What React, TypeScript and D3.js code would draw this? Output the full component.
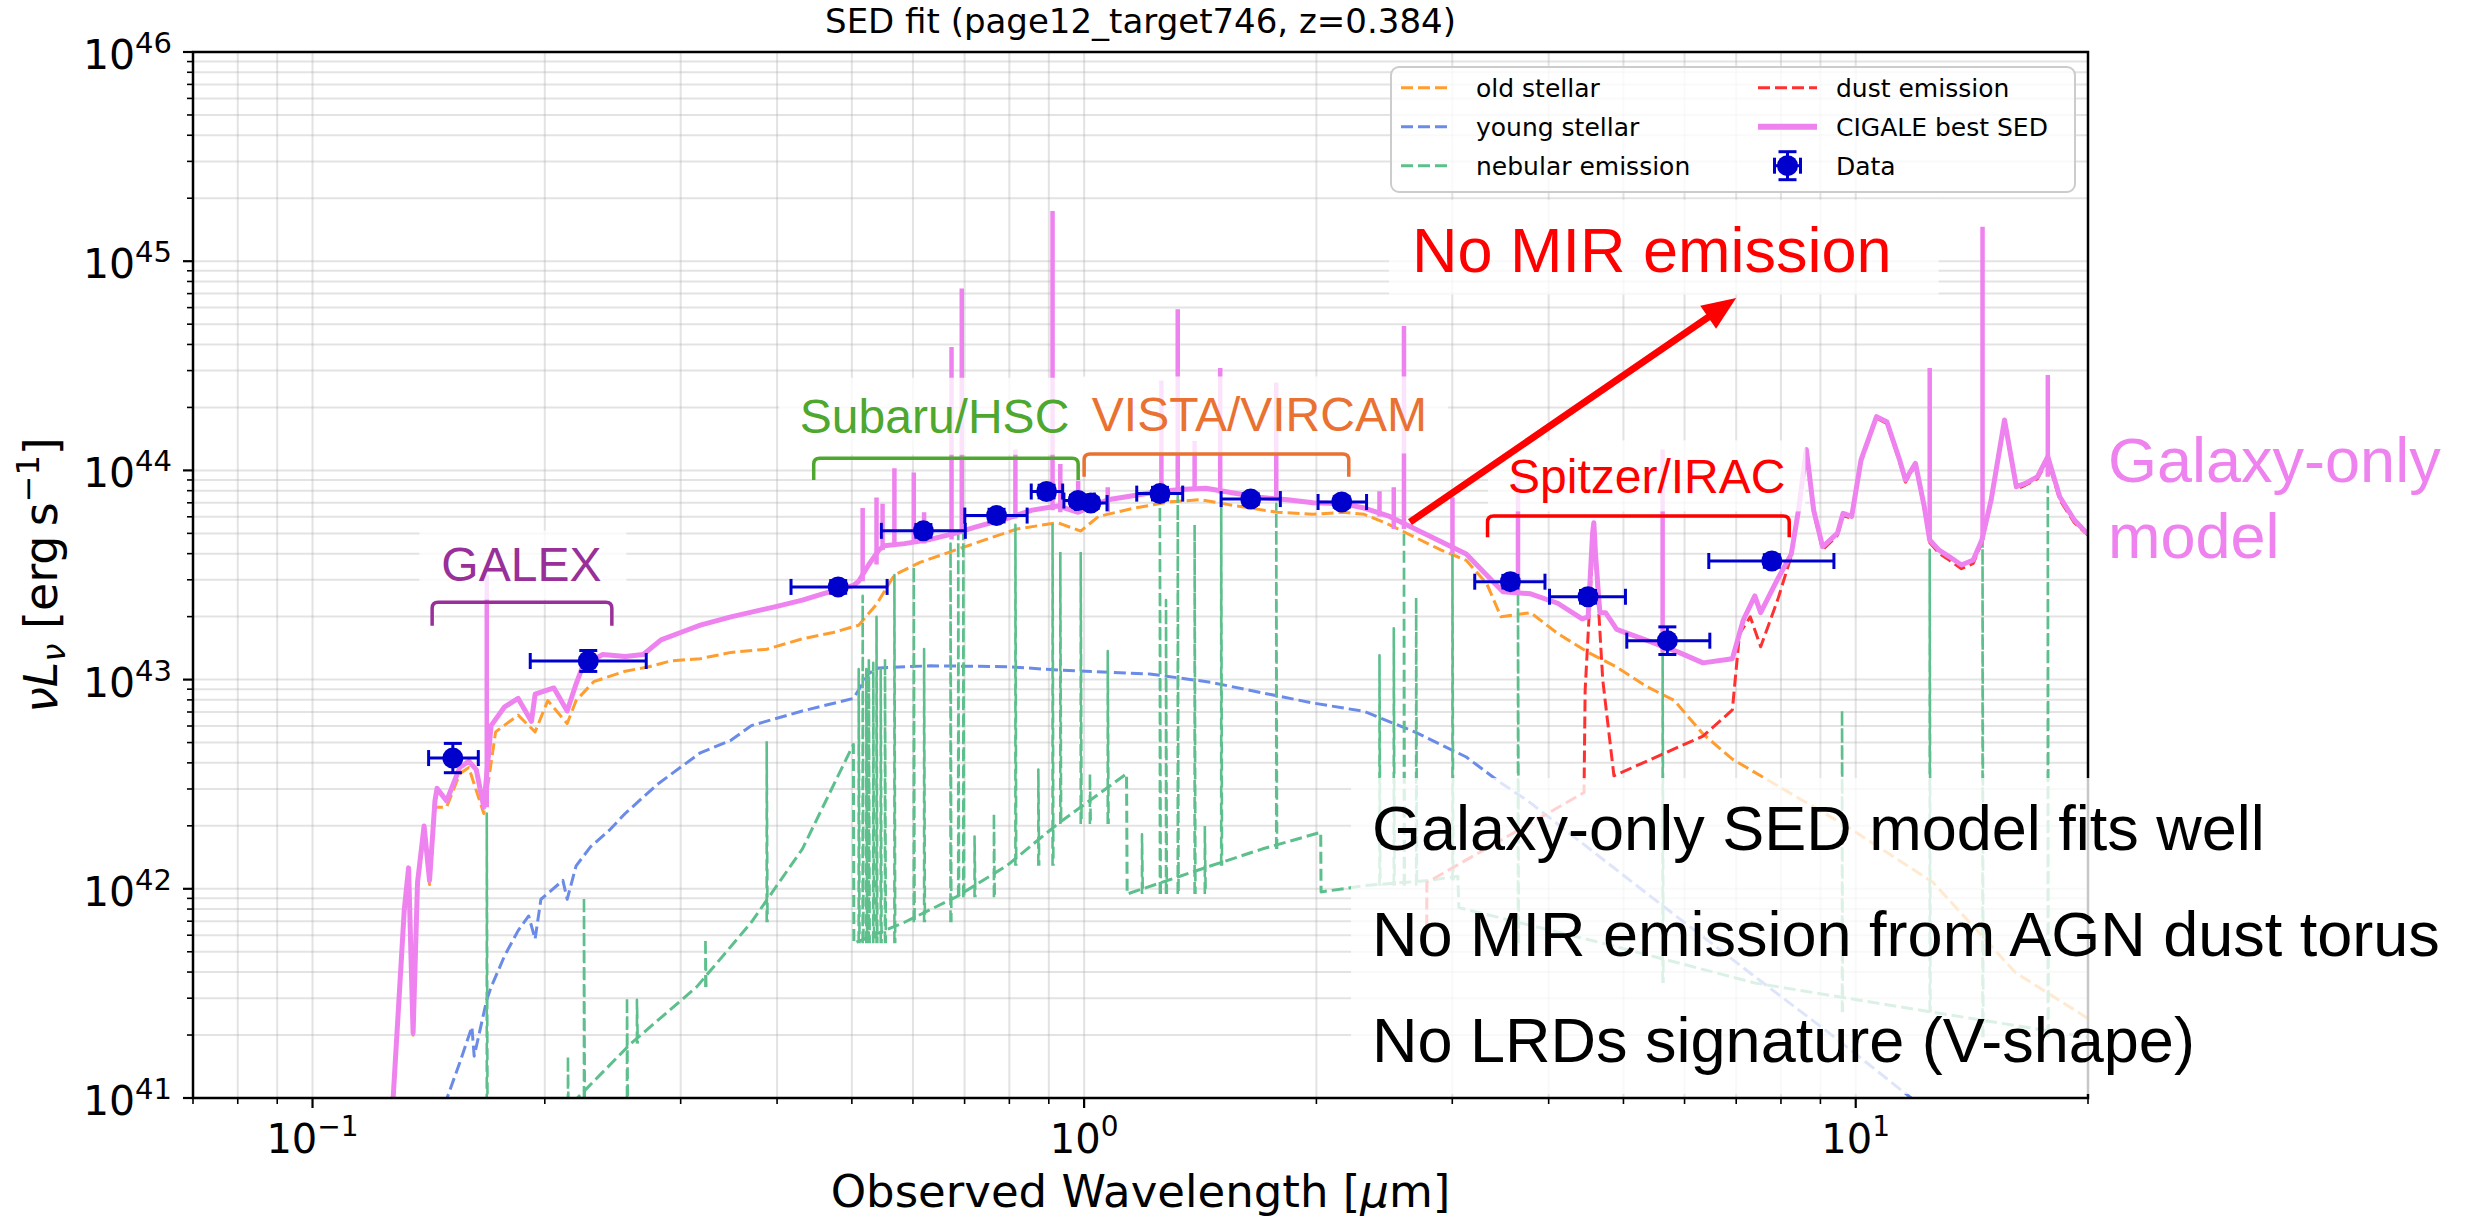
import * as d3 from "d3";
import { useLayoutEffect, useRef, useState } from "react";

type Pt = [number, number];

// all curves: [observed wavelength in µm, log10 νLν in erg/s]
const sedTotal: Pt[] = [
  [0.1265, 40.7], [0.1272, 41.0], [0.1315, 41.9], [0.1332, 42.1], [0.135, 41.31], [0.1368, 42.03],
  [0.1395, 42.3], [0.1418, 42.04], [0.1441, 42.42], [0.145, 42.48], [0.1492, 42.42], [0.1552, 42.58],
  [0.1594, 42.61], [0.163, 42.57], [0.1667, 42.39], [0.1704, 42.78], [0.1774, 42.87], [0.1847, 42.91],
  [0.1922, 42.8], [0.1943, 42.93], [0.2055, 42.96], [0.2138, 42.85], [0.2196, 42.98], [0.2243, 43.07],
  [0.2378, 43.12], [0.2542, 43.11], [0.2683, 43.12], [0.2829, 43.19], [0.3023, 43.23], [0.3181, 43.26],
  [0.3485, 43.3], [0.3997, 43.35], [0.4313, 43.38], [0.4584, 43.41], [0.5023, 43.45], [0.5103, 43.47],
  [0.526, 43.55], [0.5423, 43.62], [0.5506, 43.64], [0.5851, 43.65], [0.6317, 43.67], [0.6816, 43.7],
  [0.7243, 43.73], [0.7937, 43.77], [0.8564, 43.81], [0.9241, 43.83], [0.9824, 43.8], [1.073, 43.86],
  [1.1618, 43.88], [1.2537, 43.9], [1.3528, 43.91], [1.438, 43.915], [1.5756, 43.89], [1.7003, 43.87],
  [1.8345, 43.86], [1.9798, 43.845], [2.1704, 43.84], [2.3067, 43.82], [2.4889, 43.78], [2.6853, 43.72],
  [2.8986, 43.66], [3.1278, 43.6], [3.304, 43.51], [3.49, 43.42], [3.79, 43.41], [4.11, 43.365],
  [4.42, 43.29], [4.5, 43.3], [4.56, 43.7], [4.577, 43.75], [4.6, 43.6], [4.66, 43.32], [4.74, 43.32],
  [4.9, 43.24], [5.34, 43.19], [5.9, 43.13], [6.34, 43.08], [6.92, 43.1], [7.15, 43.285], [7.4, 43.4],
  [7.53, 43.32], [7.92, 43.48], [8.25, 43.6], [8.43, 43.81], [8.63, 44.1], [8.82, 43.81], [9.06, 43.635],
  [9.47, 43.7], [9.63, 43.795], [9.88, 43.78], [10.16, 44.05], [10.64, 44.257], [10.97, 44.233],
  [11.4, 44.05], [11.6, 43.954], [11.95, 44.034], [12.27, 43.827], [12.47, 43.667], [12.81, 43.62],
  [13.23, 43.587], [13.71, 43.548], [14.2, 43.572], [14.57, 43.667], [14.98, 43.859], [15.59, 44.241],
  [16.15, 43.922], [16.6, 43.938], [17.2, 43.97], [17.74, 44.066], [18.38, 43.874], [19.2, 43.763],
  [19.85, 43.707], [20.0, 43.7],
];

// emission-line peaks on the best SED
const sedLines: Pt[] = [
  [0.1682, 43.5], [0.5164, 43.82], [0.5382, 43.87], [0.548, 43.84], [0.5677, 44.01], [0.6015, 43.99],
  [0.6203, 43.8], [0.6732, 44.59], [0.6941, 44.87], [0.8146, 44.1], [0.9101, 45.24], [0.9314, 44.03],
  [0.9824, 43.95], [1.073, 43.92], [1.2593, 44.43], [1.3223, 44.77], [1.3906, 44.14], [1.5009, 44.49],
  [1.7742, 44.42], [2.4143, 43.9], [2.5195, 43.92], [2.5972, 44.69], [3.0017, 43.87], [3.65, 44.0],
  [5.62, 44.1], [12.47, 44.49], [14.6, 45.165], [17.74, 44.456],
];

const oldStellar: Pt[] = [
  [0.1265, 40.7], [0.1272, 41.0], [0.1315, 41.88], [0.1332, 42.08], [0.135, 41.3], [0.1368, 42.01],
  [0.1395, 42.27], [0.1418, 42.02], [0.1441, 42.39], [0.1492, 42.39], [0.1552, 42.55], [0.1594, 42.58],
  [0.1667, 42.36], [0.1727, 42.75], [0.1847, 42.83], [0.1943, 42.75], [0.2018, 42.9], [0.2138, 42.79],
  [0.2196, 42.9], [0.2314, 42.99], [0.2542, 43.04], [0.2719, 43.06], [0.2918, 43.09], [0.3181, 43.1],
  [0.3485, 43.13], [0.3878, 43.145], [0.4313, 43.195], [0.4727, 43.225], [0.5103, 43.26], [0.5382, 43.36],
  [0.5677, 43.5], [0.6126, 43.56], [0.6816, 43.62], [0.7466, 43.67], [0.8182, 43.72], [0.9241, 43.75],
  [0.9899, 43.71], [1.0442, 43.78], [1.1618, 43.82], [1.2925, 43.85], [1.4162, 43.86], [1.5756, 43.83],
  [1.7795, 43.8], [1.9798, 43.79], [2.1704, 43.8], [2.3067, 43.79], [2.4889, 43.74], [2.6853, 43.68],
  [2.8986, 43.62], [3.1278, 43.57], [3.3236, 43.46], [3.47, 43.3], [3.79, 43.32], [4.11, 43.22],
  [4.5, 43.13], [4.9, 43.06], [5.34, 42.97], [5.82, 42.9], [6.34, 42.74], [6.92, 42.62], [7.53, 42.54],
  [9.72, 42.3], [12.6, 42.03], [16.1, 41.6], [20.0, 41.38],
];

const youngStellar: Pt[] = [
  [0.1485, 40.8], [0.1494, 41.0], [0.1552, 41.17], [0.1609, 41.34], [0.162, 41.2], [0.1682, 41.47],
  [0.1704, 41.53], [0.1774, 41.68], [0.1847, 41.8], [0.1906, 41.87], [0.1943, 41.76], [0.1977, 41.95],
  [0.2111, 42.04], [0.2138, 41.95], [0.2196, 42.11], [0.2292, 42.2], [0.2425, 42.28], [0.2542, 42.36],
  [0.28, 42.5], [0.3181, 42.65], [0.3485, 42.71], [0.3704, 42.78], [0.4313, 42.85], [0.5023, 42.91],
  [0.526, 43.03], [0.5423, 43.056], [0.6317, 43.066], [0.7937, 43.062], [0.9241, 43.046], [1.216, 43.027],
  [1.46, 42.987], [1.7003, 42.937], [1.9798, 42.888], [2.3067, 42.848], [2.6853, 42.749], [3.1278, 42.63],
  [3.4537, 42.511], [3.76, 42.42], [5.5, 41.946], [7.4, 41.58], [9.25, 41.309], [11.8, 41.0], [12.3, 40.9],
];

const nebularCont: Pt[] = [
  [0.218, 40.8], [0.2204, 41.0], [0.2585, 41.26], [0.3145, 41.53], [0.3704, 41.84], [0.4313, 42.19],
  [0.5023, 42.69], [0.503, 41.74], [0.5851, 41.84], [0.6816, 41.96], [0.7937, 42.11], [0.9241, 42.31],
  [1.135, 42.55], [1.137, 41.975], [1.46, 42.11], [1.7003, 42.19], [2.0259, 42.27], [2.028, 41.985],
  [2.3067, 42.015], [2.8, 42.04], [3.05, 42.06], [3.06, 41.91], [4.7, 41.74], [7.4, 41.55],
  [12.6, 41.41], [20.0, 41.29],
];

const nebularLines: Pt[] = [
  [0.1682, 42.36], [0.2143, 41.2], [0.2248, 41.96], [0.2556, 41.48], [0.2633, 41.47], [0.323, 41.76],
  [0.3878, 42.7], [0.5103, 43.05], [0.5164, 43.4], [0.522, 43.05], [0.526, 43.1], [0.533, 43.08],
  [0.5382, 43.3], [0.545, 43.05], [0.552, 43.1], [0.5677, 43.5], [0.6015, 43.54], [0.6203, 43.146],
  [0.6712, 43.65], [0.6868, 43.7], [0.6973, 43.7], [0.7211, 42.25], [0.764, 42.36], [0.8146, 43.74],
  [0.8723, 42.57], [0.9101, 43.74], [0.9314, 43.61], [0.9899, 43.61], [1.0174, 42.55], [1.073, 43.136],
  [1.1885, 42.26], [1.2537, 43.87], [1.2768, 43.38], [1.3223, 43.88], [1.3906, 43.74], [1.4336, 42.3],
  [1.5054, 43.87], [1.7742, 43.84], [2.4143, 43.116], [2.5195, 43.245], [2.5972, 43.75], [2.6934, 43.393],
  [3.0017, 43.593], [3.65, 43.51], [5.62, 43.19], [9.6, 42.855], [12.47, 43.62], [14.6, 43.667],
  [17.74, 43.922],
];

const dustEmission: Pt[] = [
  [2.78, 41.82], [2.781, 42.03], [4.445, 42.46], [4.46, 42.95], [4.577, 43.73], [4.7, 43.0], [4.86, 42.54],
  [6.34, 42.73], [6.92, 42.855], [7.07, 43.22], [7.3, 43.3], [7.53, 43.157], [7.92, 43.38], [8.25, 43.59],
  [8.43, 43.8], [8.63, 44.09], [8.82, 43.8], [9.06, 43.62], [9.47, 43.69], [9.63, 43.785], [9.88, 43.77],
  [10.16, 44.04], [10.64, 44.25], [10.97, 44.225], [11.4, 44.04], [11.6, 43.944], [11.95, 44.024],
  [12.27, 43.815], [12.47, 43.655], [12.81, 43.605], [13.23, 43.57], [13.71, 43.53], [14.2, 43.555],
  [14.57, 43.655], [14.98, 43.85], [15.59, 44.23], [16.15, 43.91], [16.6, 43.93], [17.2, 43.96],
  [17.74, 44.05], [18.38, 43.86], [19.2, 43.75], [20.0, 43.69],
];

// photometry: GALEX FUV/NUV, HSC grizy, VIRCAM YJHKs, IRAC 1-4
const obsLam = [0.152, 0.2277, 0.48, 0.619, 0.77, 0.894, 0.982, 1.02, 1.254, 1.644, 2.157, 3.568, 4.498, 5.7, 7.785];
const obsLamLo = [0.1414, 0.1915, 0.417, 0.546, 0.7004, 0.854, 0.9415, 0.975, 1.17, 1.505, 2.01, 3.208, 4.01, 5.05, 6.45];
const obsLamHi = [0.164, 0.2707, 0.5555, 0.7015, 0.8436, 0.938, 1.031, 1.071, 1.342, 1.796, 2.323, 3.956, 5.03, 6.47, 9.37];
const obsLogL = [42.625, 43.089, 43.443, 43.711, 43.784, 43.899, 43.856, 43.844, 43.889, 43.863, 43.849, 43.468, 43.396, 43.186, 43.567];
const obsErr = [0.07, 0.05, 0.03, 0.03, 0.03, 0.03, 0.025, 0.025, 0.03, 0.025, 0.025, 0.03, 0.03, 0.066, 0.03];

const instruments = [
  { name: "GALEX", lo: 0.1429, hi: 0.2443, bar: 43.37, leg: 43.258, tx: 0.1865, ty: 43.473, color: "#992f99", pad: [22, 25, 7, 9] },
  { name: "Subaru/HSC", lo: 0.4462, hi: 0.9824, bar: 44.058, leg: 43.954, tx: 0.64, ty: 44.18, color: "#4ea72e", pad: [21, 21, 12, 12] },
  { name: "VISTA/VIRCAM", lo: 1.0, hi: 2.203, bar: 44.078, leg: 43.97, tx: 1.687, ty: 44.186, color: "#e97132", pad: [21, 21, 12, 12] },
  { name: "Spitzer/IRAC", lo: 3.333, hi: 8.2, bar: 43.782, leg: 43.68, tx: 5.36, ty: 43.89, color: "#ff0000", pad: [20, 20, 10, 8] },
];

const arrowFrom: Pt = [2.644, 43.753];
const arrowTo: Pt = [7.0, 44.824];

const notes = ["Galaxy-only SED model fits well", "No MIR emission from AGN dust torus", "No LRDs signature (V-shape)"];

const C = {
  old: "#ff9d2e",
  young: "#6a8be8",
  neb: "#5cbf8c",
  dust: "#ff3030",
  total: "#ee82ee",
  data: "#0000cc",
};

const W = 2483, H = 1222;
const X0 = 193, X1 = 2088, Y0 = 52, Y1 = 1098;
const AX = "DejaVu Sans, sans-serif";
const SANS = "Liberation Sans, Arial, Helvetica, sans-serif";
const DASH = "12 5";

function BoxedText(props: {
  x: number; y: number; text: string; size: number; color: string;
  anchor?: string; pad: number[]; opacity?: number;
}) {
  const { x, y, text, size, color, anchor = "start", pad, opacity = 0.78 } = props;
  const ref = useRef<SVGTextElement>(null);
  const [bb, setBb] = useState<{ x: number; y: number; width: number; height: number } | null>(null);
  useLayoutEffect(() => {
    if (ref.current) {
      const b = ref.current.getBBox();
      setBb({ x: b.x, y: b.y, width: b.width, height: b.height });
    }
  }, [x, y, text, size]);
  return (
    <g>
      {bb && (
        <rect x={bb.x - pad[0]} y={bb.y - pad[2]} width={bb.width + pad[0] + pad[1]}
          height={bb.height + pad[2] + pad[3]} fill="#fff" fillOpacity={opacity} />
      )}
      <text ref={ref} x={x} y={y} fontSize={size} fill={color} fontFamily={SANS} textAnchor={anchor}>{text}</text>
    </g>
  );
}

function decadeTicks(lo: number, hi: number, e0: number, e1: number) {
  const out: number[] = [];
  for (let e = e0; e <= e1; e++)
    for (let m = 1; m <= 9; m++) {
      const v = m * Math.pow(10, e);
      if (v >= lo * 0.999 && v <= hi * 1.001) out.push(v);
    }
  return out;
}
const isMajor = (v: number) => Math.abs(Math.log10(v) - Math.round(Math.log10(v))) < 1e-6;

export default function App() {
  const x = d3.scaleLog().domain([0.07, 20]).range([X0, X1]);
  const y = d3.scaleLog().domain([1e41, 1e46]).range([Y1, Y0]);
  const ly = (v: number) => y(Math.pow(10, v));
  const line = d3.line<Pt>().x((d) => x(d[0])).y((d) => ly(d[1]));

  const xTicks = decadeTicks(0.07, 20, -2, 1);
  const yTicks = decadeTicks(1e41, 1e46, 41, 46);

  // vertical emission lines rise from the lower of the two neighbouring continuum points
  const baseOf = (series: Pt[], lam: number) => {
    const i = d3.bisector((d: Pt) => d[0]).left(series, lam);
    if (i <= 0 || i >= series.length) return 40.8;
    return Math.min(series[i - 1][1], series[i][1]);
  };
  const spikePath = (lines: Pt[], series: Pt[], back: boolean) =>
    lines
      .map(([lam, pk]) => {
        const px = x(lam);
        const b = ly(baseOf(series, lam));
        return back ? `M${px},${b}L${px},${ly(pk)}L${px + 0.8},${b}` : `M${px},${b}L${px},${ly(pk)}`;
      })
      .join("");

  // arrow
  const sx = x(arrowFrom[0]), sy = ly(arrowFrom[1]);
  const ex = x(arrowTo[0]), ey = ly(arrowTo[1]);
  const alen = Math.hypot(ex - sx, ey - sy);
  const ux = (ex - sx) / alen, uy = (ey - sy) / alen;
  const hl = 34, hw = 14;
  const bx = ex - ux * hl, by = ey - uy * hl;

  const legRows = [87.7, 126.7, 165.7];
  const legCols = [
    { h0: 1401, h1: 1452, t: 1476 },
    { h0: 1758, h1: 1817, t: 1836 },
  ];
  const legendItems = [
    { label: "old stellar", color: C.old, kind: "dash", col: 0, row: 0 },
    { label: "young stellar", color: C.young, kind: "dash", col: 0, row: 1 },
    { label: "nebular emission", color: C.neb, kind: "dash", col: 0, row: 2 },
    { label: "dust emission", color: C.dust, kind: "dash", col: 1, row: 0 },
    { label: "CIGALE best SED", color: C.total, kind: "solid", col: 1, row: 1 },
    { label: "Data", color: C.data, kind: "marker", col: 1, row: 2 },
  ];

  return (
    <svg width={W} height={H} style={{ position: "absolute", left: 0, top: 0 }} xmlns="http://www.w3.org/2000/svg">
      <defs>
        <clipPath id="plot">
          <rect x={X0} y={Y0} width={X1 - X0} height={Y1 - Y0} />
        </clipPath>
      </defs>
      <rect x={0} y={0} width={W} height={H} fill="#fff" />

      {/* grid */}
      <g stroke="#b0b0b0" strokeOpacity={0.35} strokeWidth={2}>
        {xTicks.map((v) => (
          <line key={"gx" + v} x1={x(v)} x2={x(v)} y1={Y0} y2={Y1} />
        ))}
        {yTicks.map((v) => (
          <line key={"gy" + v} x1={X0} x2={X1} y1={y(v)} y2={y(v)} />
        ))}
      </g>

      {/* model components */}
      <g clipPath="url(#plot)" fill="none" strokeLinejoin="round">
        <path d={line(oldStellar) ?? ""} stroke={C.old} strokeWidth={3} strokeDasharray={DASH} />
        <path d={line(youngStellar) ?? ""} stroke={C.young} strokeWidth={3} strokeDasharray={DASH} />
        <path d={line(nebularCont) ?? ""} stroke={C.neb} strokeWidth={3} strokeDasharray={DASH} />
        <path d={spikePath(nebularLines, nebularCont, true)} stroke={C.neb} strokeWidth={2.6} strokeDasharray={DASH} />
        <path d={line(dustEmission) ?? ""} stroke={C.dust} strokeWidth={3} strokeDasharray={DASH} />
        <path d={spikePath(sedLines, sedTotal, false)} stroke={C.total} strokeWidth={4.5} />
        <path d={line(sedTotal) ?? ""} stroke={C.total} strokeWidth={5} />
      </g>

      {/* photometry */}
      <g stroke={C.data} strokeWidth={3} fill={C.data}>
        {obsLam.map((lam, i) => {
          const cx = x(lam), cy = ly(obsLogL[i]);
          const xl = x(obsLamLo[i]), xh = x(obsLamHi[i]);
          const yt = ly(obsLogL[i] + obsErr[i]), yb = ly(obsLogL[i] - obsErr[i]);
          return (
            <g key={"d" + i}>
              <line x1={xl} x2={xh} y1={cy} y2={cy} />
              <line x1={xl} x2={xl} y1={cy - 8} y2={cy + 8} />
              <line x1={xh} x2={xh} y1={cy - 8} y2={cy + 8} />
              <line x1={cx} x2={cx} y1={yt} y2={yb} />
              <line x1={cx - 9} x2={cx + 9} y1={yt} y2={yt} />
              <line x1={cx - 9} x2={cx + 9} y1={yb} y2={yb} />
              <circle cx={cx} cy={cy} r={10.5} stroke="none" />
            </g>
          );
        })}
      </g>

      {/* spines and ticks */}
      <rect x={X0} y={Y0} width={X1 - X0} height={Y1 - Y0} fill="none" stroke="#000" strokeWidth={2.5} />
      <g stroke="#000">
        {xTicks.map((v) => (
          <line key={"tx" + v} x1={x(v)} x2={x(v)} y1={Y1} y2={Y1 + (isMajor(v) ? 10 : 6)} strokeWidth={isMajor(v) ? 2.2 : 1.6} />
        ))}
        {yTicks.map((v) => (
          <line key={"ty" + v} x1={X0 - (isMajor(v) ? 10 : 6)} x2={X0} y1={y(v)} y2={y(v)} strokeWidth={isMajor(v) ? 2.2 : 1.6} />
        ))}
      </g>

      {/* annotation: notes box */}
      <rect x={1351} y={778} width={W - 1351} height={1094 - 778} fill="#fff" fillOpacity={0.78} />
      {notes.map((t, i) => (
        <text key={t} x={1372} y={850 + i * 105.8} fontSize={63} fontFamily={SANS} fill="#000">{t}</text>
      ))}

      {/* instrument brackets */}
      {instruments.map((ins) => {
        const xa = x(ins.lo), xb = x(ins.hi), yb = ly(ins.bar), yl = ly(ins.leg);
        const r = 6;
        return (
          <g key={ins.name}>
            <BoxedText x={x(ins.tx)} y={ly(ins.ty)} text={ins.name} size={48} color={ins.color} anchor="middle" pad={ins.pad} />
            <path
              d={`M${xa},${yl}L${xa},${yb + r}Q${xa},${yb} ${xa + r},${yb}L${xb - r},${yb}Q${xb},${yb} ${xb},${yb + r}L${xb},${yl}`}
              fill="none" stroke={ins.color} strokeWidth={3.5}
            />
          </g>
        );
      })}

      {/* no MIR emission */}
      <BoxedText x={x(2.66)} y={ly(44.95)} text="No MIR emission" size={63} color="#ff0000" pad={[23, 47, 15, 10]} />
      <line x1={sx} y1={sy} x2={bx + ux * 2} y2={by + uy * 2} stroke="#ff0000" strokeWidth={7} />
      <polygon
        points={`${ex},${ey} ${bx - uy * hw},${by + ux * hw} ${bx + uy * hw},${by - ux * hw}`}
        fill="#ff0000"
      />

      {/* legend */}
      <rect x={1391} y={67} width={684} height={125} rx={8} fill="#fff" fillOpacity={0.8} stroke="#cccccc" strokeWidth={2} />
      {legendItems.map((it) => {
        const col = legCols[it.col];
        const cy = legRows[it.row];
        const mx = (col.h0 + col.h1) / 2;
        return (
          <g key={it.label}>
            {it.kind === "dash" && (
              <line x1={col.h0} x2={col.h1} y1={cy} y2={cy} stroke={it.color} strokeWidth={3} strokeDasharray={DASH} />
            )}
            {it.kind === "solid" && <line x1={col.h0} x2={col.h1} y1={cy} y2={cy} stroke={it.color} strokeWidth={6} />}
            {it.kind === "marker" && (
              <g stroke={it.color} strokeWidth={3} fill={it.color}>
                <line x1={mx - 13} x2={mx + 13} y1={cy} y2={cy} />
                <line x1={mx - 13} x2={mx - 13} y1={cy - 8} y2={cy + 8} />
                <line x1={mx + 13} x2={mx + 13} y1={cy - 8} y2={cy + 8} />
                <line x1={mx} x2={mx} y1={cy - 14} y2={cy + 14} />
                <line x1={mx - 9} x2={mx + 9} y1={cy - 14} y2={cy - 14} />
                <line x1={mx - 9} x2={mx + 9} y1={cy + 14} y2={cy + 14} />
                <circle cx={mx} cy={cy} r={10.5} stroke="none" />
              </g>
            )}
            <text x={col.t} y={cy + 9} fontSize={25} fontFamily={AX} fill="#000">{it.label}</text>
          </g>
        );
      })}

      {/* tick labels */}
      <g fontFamily={AX} fill="#000">
        {xTicks.filter(isMajor).map((v) => (
          <text key={"lx" + v} x={x(v)} y={1153} fontSize={40} textAnchor="middle">
            10<tspan dy={-17} fontSize={28}>{Math.round(Math.log10(v)) < 0 ? "\u2212" + Math.abs(Math.round(Math.log10(v))) : Math.round(Math.log10(v))}</tspan>
          </text>
        ))}
        {yTicks.filter(isMajor).map((v) => (
          <text key={"ly" + v} x={172} y={y(v) + 17} fontSize={41} textAnchor="end">
            10<tspan dy={-16} fontSize={29}>{Math.round(Math.log10(v))}</tspan>
          </text>
        ))}
      </g>

      {/* titles */}
      <text x={(X0 + X1) / 2} y={33} fontSize={34} fontFamily={AX} textAnchor="middle">
        SED fit (page12_target746, z=0.384)
      </text>
      <text x={(X0 + X1) / 2} y={1207} fontSize={45} fontFamily={AX} textAnchor="middle">
        Observed Wavelength [<tspan fontStyle="italic">μ</tspan>m]
      </text>
      <text transform={`translate(57, ${(Y0 + Y1) / 2}) rotate(-90)`} fontSize={46} fontFamily={AX} textAnchor="middle">
        <tspan fontStyle="italic">νL</tspan>
        <tspan fontStyle="italic" fontSize={32} dy={8}>ν</tspan>
        <tspan dy={-8}>{" [erg\u2009s"}</tspan>
        <tspan fontSize={32} dy={-18}>{"\u22121"}</tspan>
        <tspan dy={18}>]</tspan>
      </text>

      {/* outside label */}
      <text x={2108} y={482} fontSize={63} fontFamily={SANS} fill={C.total}>Galaxy-only</text>
      <text x={2108} y={558} fontSize={63} fontFamily={SANS} fill={C.total}>model</text>
    </svg>
  );
}
